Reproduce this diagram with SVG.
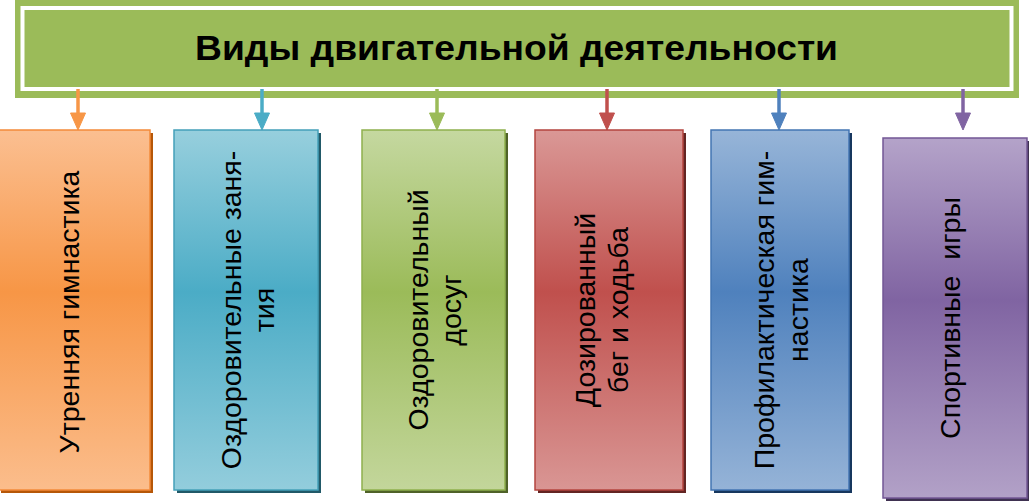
<svg xmlns="http://www.w3.org/2000/svg" width="1029" height="503" viewBox="0 0 1029 503">
<style>
.t{font-family:"Liberation Sans",Arial,sans-serif;font-size:28.5px;fill:#000;text-anchor:middle}
.title{font-family:"Liberation Sans",Arial,sans-serif;font-size:35px;font-weight:bold;fill:#000;text-anchor:middle}
.ar{stroke-width:3.5;fill:none}
</style>
<defs>
<linearGradient id="gO" x1="0" y1="0" x2="0" y2="1"><stop offset="0" stop-color="#fbbf91"/><stop offset="0.45" stop-color="#f79646"/><stop offset="1" stop-color="#fbbd8c"/></linearGradient>
<linearGradient id="gA" x1="0" y1="0" x2="0" y2="1"><stop offset="0" stop-color="#97cfdd"/><stop offset="0.45" stop-color="#4bacc6"/><stop offset="1" stop-color="#93cddc"/></linearGradient>
<linearGradient id="gG" x1="0" y1="0" x2="0" y2="1"><stop offset="0" stop-color="#c5d8a0"/><stop offset="0.45" stop-color="#9bbb59"/><stop offset="1" stop-color="#c3d69b"/></linearGradient>
<linearGradient id="gR" x1="0" y1="0" x2="0" y2="1"><stop offset="0" stop-color="#da9896"/><stop offset="0.45" stop-color="#c0504d"/><stop offset="1" stop-color="#d99694"/></linearGradient>
<linearGradient id="gB" x1="0" y1="0" x2="0" y2="1"><stop offset="0" stop-color="#97b5d8"/><stop offset="0.45" stop-color="#4f81bd"/><stop offset="1" stop-color="#95b3d7"/></linearGradient>
<linearGradient id="gP" x1="0" y1="0" x2="0" y2="1"><stop offset="0" stop-color="#b4a3c9"/><stop offset="0.45" stop-color="#8064a2"/><stop offset="1" stop-color="#b2a1c7"/></linearGradient>
</defs>
<rect width="1029" height="503" fill="#fff"/>
<g id="banner">
<rect x="15" y="-2" width="1004" height="100" fill="#9bbb59"/>
<rect x="22.5" y="8" width="989" height="81" fill="none" stroke="#fff" stroke-width="4"/>
<text class="title" x="516.5" y="60" textLength="643" lengthAdjust="spacingAndGlyphs">Виды двигательной деятельности</text>
</g>
<g id="connectors">
<g stroke="#f79646" fill="#f79646"><line class="ar" x1="78" y1="89" x2="78" y2="115"/><polygon points="70.5,113 85.5,113 78,130"/></g>
<g stroke="#4bacc6" fill="#4bacc6"><line class="ar" x1="262" y1="89" x2="262" y2="115"/><polygon points="254.5,113 269.5,113 262,130"/></g>
<g stroke="#9bbb59" fill="#9bbb59"><line class="ar" x1="437" y1="89" x2="437" y2="115"/><polygon points="429.5,113 444.5,113 437,130"/></g>
<g stroke="#c0504d" fill="#c0504d"><line class="ar" x1="607" y1="89" x2="607" y2="115"/><polygon points="599.5,113 614.5,113 607,130"/></g>
<g stroke="#4f81bd" fill="#4f81bd"><line class="ar" x1="779" y1="89" x2="779" y2="115"/><polygon points="771.5,113 786.5,113 779,130"/></g>
<g stroke="#8064a2" fill="#8064a2"><line class="ar" x1="963" y1="89" x2="963" y2="115"/><polygon points="955.5,113 970.5,113 963,130"/></g>
</g>
<g id="n1">
<rect x="1" y="133" width="152" height="360" fill="#b65708"/>
<rect x="-2" y="130" width="152" height="360" fill="url(#gO)" stroke="#f38b3a" stroke-width="1.5"/>
<text class="t" transform="translate(79,312) rotate(-90)" x="0" y="0">Утренняя гимнастика</text>
</g>
<g id="n2">
<rect x="177" y="133" width="144" height="360" fill="#215968"/>
<rect x="174" y="130" width="144" height="360" fill="url(#gA)" stroke="#44a0b9" stroke-width="1.5"/>
<text class="t" transform="translate(246,310) rotate(-90)"><tspan x="0" y="-5">Оздоровительные заня-</tspan><tspan x="0" y="28">тия</tspan></text>
</g>
<g id="n3">
<rect x="365" y="133" width="143" height="360" fill="#4f6228"/>
<rect x="362" y="130" width="143" height="360" fill="url(#gG)" stroke="#8fb04d" stroke-width="1.5"/>
<text class="t" transform="translate(433.5,310) rotate(-90)"><tspan x="0" y="-6">Оздоровительный</tspan><tspan x="0" y="27">досуг</tspan></text>
</g>
<g id="n4">
<rect x="538" y="133" width="148" height="360" fill="#632523"/>
<rect x="535" y="130" width="148" height="360" fill="url(#gR)" stroke="#b4443f" stroke-width="1.5"/>
<text class="t" transform="translate(609,310) rotate(-90)"><tspan x="0" y="-14">Дозированный</tspan><tspan x="0" y="19">бег и ходьба</tspan></text>
</g>
<g id="n5">
<rect x="714" y="133" width="138" height="360" fill="#17375e"/>
<rect x="711" y="130" width="138" height="360" fill="url(#gB)" stroke="#4375b3" stroke-width="1.5"/>
<text class="t" transform="translate(780,310) rotate(-90)"><tspan x="0" y="-6">Профилактическая гим-</tspan><tspan x="0" y="28">настика</tspan></text>
</g>
<g id="n6">
<rect x="886" y="141" width="144" height="360" fill="#3f3151"/>
<rect x="883" y="138" width="144" height="360" fill="url(#gP)" stroke="#735795" stroke-width="1.5"/>
<text class="t" transform="translate(960,318) rotate(-90)" x="0" y="0" xml:space="preserve">Спортивные  игры</text>
</g>
</svg>
